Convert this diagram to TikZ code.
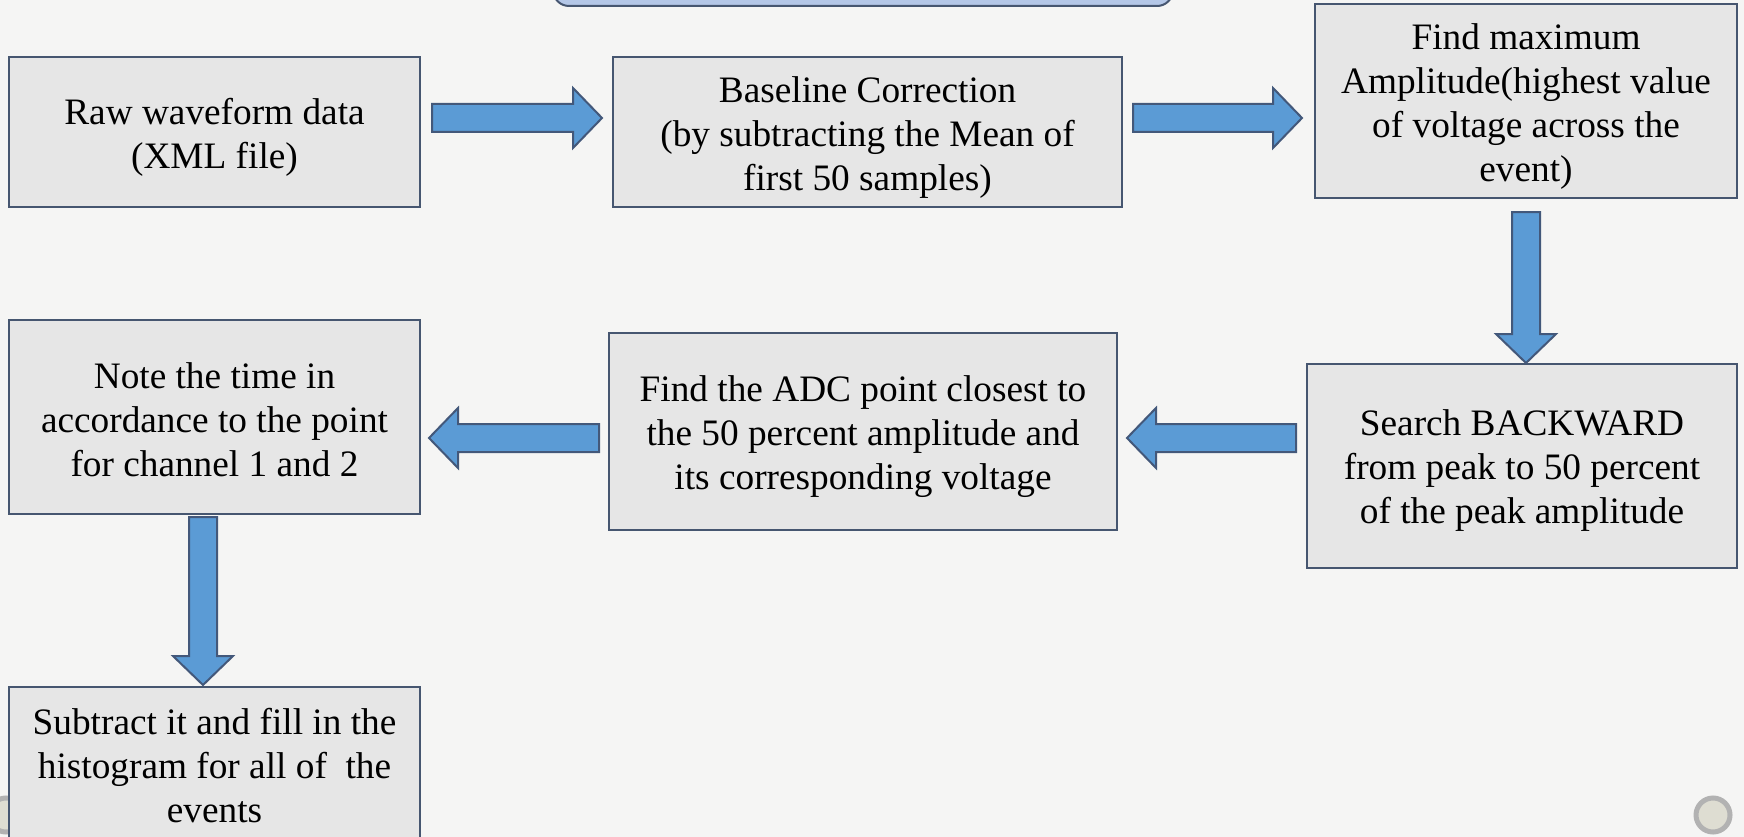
\documentclass[tikz,border=0pt]{standalone}
\usepackage{fontspec}
\setmainfont{Liberation Serif}
\usepackage{tikz}
\usetikzlibrary{calc,positioning}
\definecolor{bg}{HTML}{F5F5F4}
\definecolor{boxfill}{HTML}{E6E6E6}
\definecolor{boxline}{HTML}{465670}
\definecolor{arrfill}{HTML}{5B9BD5}
\definecolor{arrline}{HTML}{43587A}
\definecolor{topfill}{HTML}{B4C7E7}
\tikzset{%
  stepbox/.style={rectangle,draw=boxline,fill=boxfill,line width=2pt,inner sep=0pt},
  steptext/.style={align=center,inner sep=0pt,yshift=-5.5,font=\fontsize{37.3}{44}\selectfont},
  arrowbody/.style={draw=arrline,fill=arrfill,line width=2pt,line join=miter},
  knob/.style={circle,inner sep=0pt,minimum size=#1,draw=gray!60,line width=5pt,fill=yellow!15!gray!35},
  knob/.default=34pt
}
\newcommand{\fatarrow}[2]{%
  \coordinate (hb) at ($(#2)!29pt!(#1)$);
  \filldraw[arrowbody] ($(#1)!14pt!90:(#2)$) -- ($(hb)!14pt!-90:(#1)$) -- ($(hb)!30pt!-90:(#1)$)
    -- (#2) -- ($(hb)!30pt!90:(#1)$) -- ($(hb)!14pt!90:(#1)$) -- ($(#1)!14pt!-90:(#2)$) -- cycle;}

\begin{document}
\begin{tikzpicture}[x=1pt,y=-1pt]
  \useasboundingbox (0,0) rectangle (1744,837);
  \fill[bg] (0,0) rectangle (1744,837);
  % title box, cut off at the top
  \filldraw[fill=topfill,draw=boxline,line width=2pt,rounded corners=16pt] (553,-60) rectangle (1173,6);
  \node[knob] (k0) at (6,815) {};
  \node[knob] (k1) at (1713,815) {};
  %%%
  \node[stepbox,minimum width=411,minimum height=150,
    label={[steptext]center:{Raw waveform data\\(XML file)}}] (raw) at (214.5,132) {};
  \node[stepbox,minimum width=509,minimum height=150,
    label={[steptext]center:{Baseline Correction\\(by subtracting the Mean of\\first 50 samples)}}] (base) at (867.5,132) {};
  \node[stepbox,minimum width=422,minimum height=194,
    label={[steptext]center:{Find maximum\\Amplitude(highest value\\of voltage across the\\event)}}] (findmax) at (1526,101) {};
  \node[stepbox,minimum width=430,minimum height=204,
    label={[steptext]center:{Search BACKWARD\\from peak to 50 percent\\of the peak amplitude}}] (search) at (1522,465.5) {};
  \node[stepbox,minimum width=508,minimum height=197,
    label={[steptext]center:{Find the ADC point closest to\\the 50 percent amplitude and\\its corresponding voltage}}] (adc) at (863,431.5) {};
  \node[stepbox,minimum width=411,minimum height=194,
    label={[steptext,yshift=3]center:{Note the time in\\accordance to the point\\for channel 1 and 2}}] (note) at (214.5,417) {};
  % runs off the bottom edge
  \node[stepbox,minimum width=411,minimum height=170,
    label={[steptext,yshift=12]center:{Subtract it and fill in the\\histogram for all of~ the\\events}}] (sub) at (214.5,772) {};
  %%%
  \coordinate (t1) at (432,118);  \coordinate (h1) at (602,118);
  \coordinate (t2) at (1133,118); \coordinate (h2) at (1302,118);
  \coordinate (t3) at (1526,212); \coordinate (h3) at (1526,363);
  \coordinate (t4) at (1296,438); \coordinate (h4) at (1127,438);
  \coordinate (t5) at (599,438);  \coordinate (h5) at (429,438);
  \coordinate (t6) at (203,517);  \coordinate (h6) at (203,685);
  \fatarrow{t1}{h1}
  \fatarrow{t2}{h2}
  \fatarrow{t3}{h3}
  \fatarrow{t4}{h4}
  \fatarrow{t5}{h5}
  \fatarrow{t6}{h6}
\end{tikzpicture}
\end{document}
